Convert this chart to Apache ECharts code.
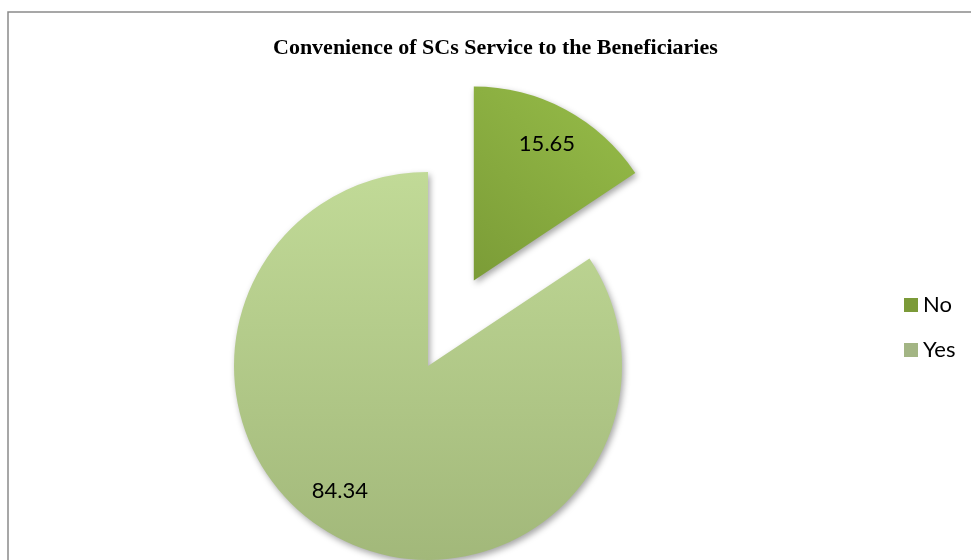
<!DOCTYPE html>
<html>
<head>
<meta charset="utf-8">
<script src="https://cdn.jsdelivr.net/npm/echarts@6/dist/echarts.min.js"></script>
<style>
  html, body { margin: 0; padding: 0; background: #fff; }
  #chart { width: 971px; height: 560px; }
</style>
</head>
<body>
<div id="chart"></div>
<script>
const categories = ['No', 'Yes']
const values = [15.65, 84.34]
const legendColors = ['#7b9a38', '#a3b584']

const center = [428, 366]
const explode = 97

function sliceFill(i) {
  if (i === 0) {
    return new echarts.graphic.LinearGradient(1, 0, 0, 1, [
      { offset: 0, color: '#97bd49' },
      { offset: 1, color: '#7b9c37' }
    ])
  }
  return new echarts.graphic.LinearGradient(0, 0, 0, 1, [
    { offset: 0, color: '#c1da97' },
    { offset: 1, color: '#a2b87a' }
  ])
}

const pieData = categories.map((name, i) => ({
  name,
  value: values[i],
  selected: i === 0,
  itemStyle: { color: sliceFill(i) }
}))

// invisible twin pie, only used to push the labels out to ~0.78 r like excel does
const labelData = categories.map((name, i) => ({
  name,
  value: values[i],
  selected: i === 0,
  label: i === 1 ? { offset: [-15, -12] } : {}
}))

const chart = echarts.init(document.getElementById('chart'))
chart.setOption({
  animation: false,
  title: {
    text: 'Convenience of SCs Service to the Beneficiaries',
    left: 268,
    top: 32,
    textStyle: { fontFamily: 'Liberation Serif', fontWeight: 'bold', fontSize: 22, color: '#000' }
  },
  graphic: [{
    type: 'rect',
    shape: { x: 8, y: 12, width: 1100, height: 700 },
    style: { fill: 'none', stroke: '#8a8a8a', lineWidth: 1.5 },
    silent: true
  }],
  legend: {
    orient: 'vertical',
    left: 899,
    top: 289,
    icon: 'rect',
    itemWidth: 14,
    itemHeight: 14,
    itemGap: 23,
    selectedMode: false,
    data: categories.map((name, i) => ({ name, itemStyle: { color: legendColors[i] } })),
    textStyle: { fontFamily: 'Lato', fontSize: 22, color: '#000' }
  },
  series: [
    {
      type: 'pie',
      center,
      radius: 194,
      startAngle: 90,
      clockwise: true,
      selectedMode: 'single',
      selectedOffset: explode,
      emphasis: { disabled: true },
      label: { show: false },
      labelLine: { show: false },
      itemStyle: {
        shadowBlur: 6,
        shadowColor: 'rgba(0,0,0,0.35)',
        shadowOffsetX: 2,
        shadowOffsetY: 3
      },
      data: pieData
    },
    {
      type: 'pie',
      silent: true,
      center,
      radius: 304,
      startAngle: 90,
      clockwise: true,
      selectedMode: 'single',
      selectedOffset: explode,
      itemStyle: { color: 'rgba(0,0,0,0)' },
      emphasis: { disabled: true },
      label: {
        show: true,
        position: 'inside',
        formatter: p => p.value.toFixed(2),
        fontFamily: 'Lato',
        fontSize: 22,
        color: '#000'
      },
      labelLine: { show: false },
      data: labelData
    }
  ]
})
</script>
</body>
</html>
